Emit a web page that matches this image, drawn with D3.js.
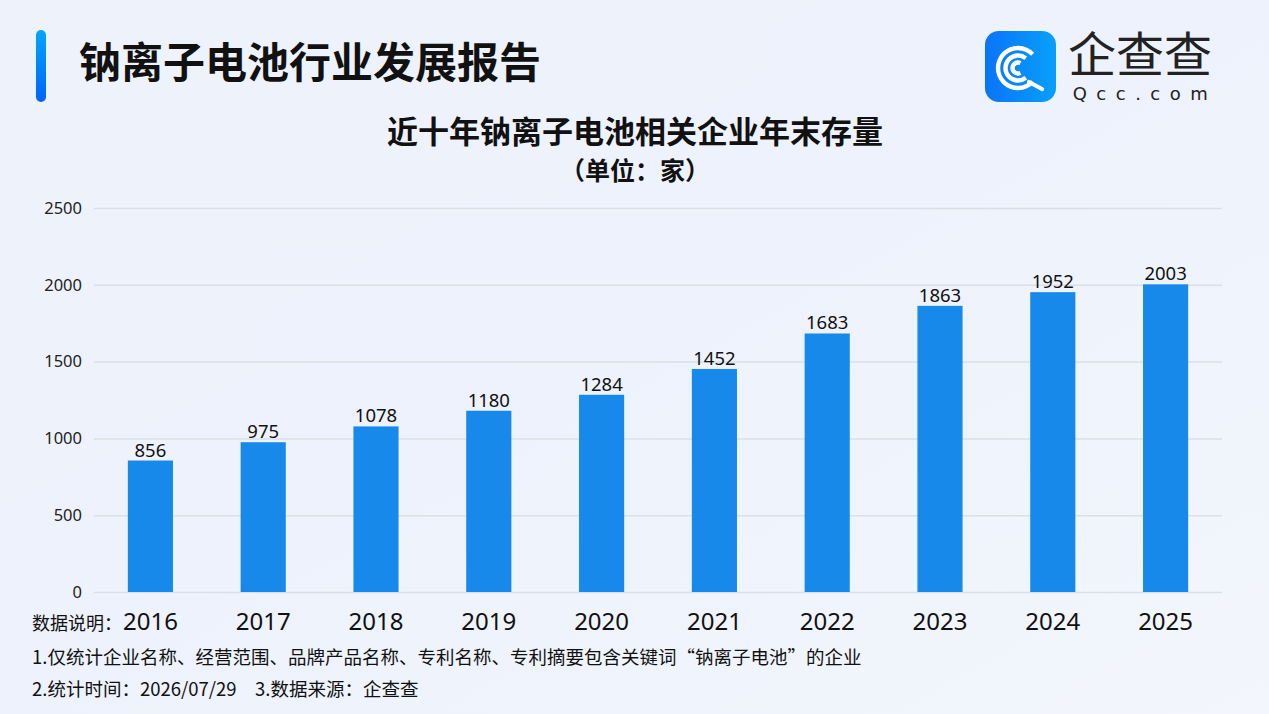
<!DOCTYPE html>
<html>
<head>
<meta charset="utf-8">
<script src="https://cdn.jsdelivr.net/npm/d3@7"></script>
<style>
  html, body { margin: 0; padding: 0; }
  body { width: 1269px; height: 714px; overflow: hidden; }
  svg text { font-family: "Noto Sans CJK SC", "Noto Sans", sans-serif; }
</style>
</head>
<body>
<div id="chart"></div>
<script>
// data
const years = ["2016", "2017", "2018", "2019", "2020", "2021", "2022", "2023", "2024", "2025"];
const counts = [856, 975, 1078, 1180, 1284, 1452, 1683, 1863, 1952, 2003];
const yTicks = [0, 500, 1000, 1500, 2000, 2500];

const width = 1269, height = 714;
const margin = { left: 94, right: 47, top: 208, bottom: 122 };

const svg = d3.select("#chart")
    .append("svg")
    .attr("width", width)
    .attr("height", height);

const defs = svg.append("defs");

const bg = defs.append("linearGradient")
    .attr("id", "bg").attr("x1", "0").attr("y1", "0").attr("x2", "1").attr("y2", "1");
bg.append("stop").attr("offset", "0").attr("stop-color", "#eef2fb");
bg.append("stop").attr("offset", "0.5").attr("stop-color", "#edf2fc");
bg.append("stop").attr("offset", "1").attr("stop-color", "#f3f6fc");

const barGrad = defs.append("linearGradient")
    .attr("id", "accent").attr("x1", "0").attr("y1", "0").attr("x2", "0").attr("y2", "1");
barGrad.append("stop").attr("offset", "0").attr("stop-color", "#03a6fb");
barGrad.append("stop").attr("offset", "1").attr("stop-color", "#0064fa");

const logoGrad = defs.append("linearGradient")
    .attr("id", "logo").attr("x1", "0").attr("y1", "0").attr("x2", "1").attr("y2", "0");
logoGrad.append("stop").attr("offset", "0").attr("stop-color", "#0a74f8");
logoGrad.append("stop").attr("offset", "1").attr("stop-color", "#08a0fb");

svg.append("rect")
    .attr("width", width).attr("height", height)
    .attr("fill", "url(#bg)");

// header
svg.append("rect")
    .attr("x", 36).attr("y", 30).attr("width", 10).attr("height", 72)
    .attr("rx", 5)
    .attr("fill", "url(#accent)");

svg.append("text")
    .attr("x", 79).attr("y", 78)
    .attr("font-size", 42).attr("font-weight", 700)
    .attr("fill", "#111")
    .text("钠离子电池行业发展报告");

// logo
const logo = svg.append("g").attr("transform", "translate(985,31)");
logo.append("rect")
    .attr("width", 71).attr("height", 71).attr("rx", 14)
    .attr("fill", "url(#logo)");
const ring = d3.arc();
[[20, 0.75], [12.5, 0.9], [5.5, 1.1]].forEach(function (r) {
    logo.append("path")
        .attr("d", ring({ innerRadius: r[0] - 2.2, outerRadius: r[0] + 2.2, startAngle: Math.PI / 2 + r[1], endAngle: Math.PI * 2.5 - r[1] }))
        .attr("transform", "translate(33,37)")
        .attr("fill", "#fff");
});
logo.append("line")
    .attr("x1", 44).attr("y1", 51).attr("x2", 57).attr("y2", 58)
    .attr("stroke", "#fff").attr("stroke-width", 4.2).attr("stroke-linecap", "round");

svg.append("text")
    .attr("x", 1140).attr("y", 72)
    .attr("text-anchor", "middle")
    .attr("font-size", 48).attr("font-weight", 400)
    .attr("fill", "#222")
    .text("企查查");
svg.append("text")
    .attr("x", 1145).attr("y", 100)
    .attr("text-anchor", "middle")
    .attr("font-size", 18)
    .attr("letter-spacing", "9.5px")
    .attr("fill", "#222")
    .style("font-family", "'DejaVu Sans', sans-serif")
    .text("Qcc.com");

// chart titles
svg.append("text")
    .attr("x", 635).attr("y", 143)
    .attr("text-anchor", "middle")
    .attr("font-size", 31).attr("font-weight", 700)
    .attr("fill", "#111")
    .text("近十年钠离子电池相关企业年末存量");
svg.append("text")
    .attr("x", 635).attr("y", 180)
    .attr("text-anchor", "middle")
    .attr("font-size", 25).attr("font-weight", 700)
    .attr("fill", "#111")
    .text("（单位：家）");

// scales
const x = d3.scaleBand()
    .domain(years)
    .range([margin.left, width - margin.right])
    .paddingInner(0.6)
    .paddingOuter(0.3);

const y = d3.scaleLinear()
    .domain([0, 2500])
    .range([height - margin.bottom, margin.top]);

// grid + y axis
const yAxis = svg.append("g")
    .attr("transform", "translate(" + margin.left + ",0)")
    .call(d3.axisLeft(y).tickValues(yTicks).tickFormat(d3.format("d"))
        .tickSize(-(width - margin.left - margin.right)).tickPadding(12));
yAxis.select(".domain").remove();
yAxis.selectAll(".tick line").attr("stroke", "#dcdfe6").attr("stroke-width", 1.5);
yAxis.selectAll(".tick text")
    .attr("font-size", 16.5).attr("fill", "#222")
    .style("font-family", "'Noto Sans', sans-serif");

// bars
svg.append("g").selectAll("rect")
    .data(counts)
    .enter()
    .append("rect")
    .attr("x", function (d, i) { return x(years[i]); })
    .attr("y", function (d) { return y(d); })
    .attr("width", x.bandwidth())
    .attr("height", function (d) { return y(0) - y(d); })
    .attr("fill", "#1689ea");

svg.append("g").selectAll("text")
    .data(counts)
    .enter()
    .append("text")
    .attr("x", function (d, i) { return x(years[i]) + x.bandwidth() / 2; })
    .attr("y", function (d) { return y(d) - 4; })
    .attr("text-anchor", "middle")
    .attr("font-size", 18.5)
    .attr("fill", "#111")
    .style("font-family", "'Noto Sans', sans-serif")
    .text(function (d) { return d; });

// x labels
const xAxis = svg.append("g")
    .attr("transform", "translate(0," + y(0) + ")")
    .call(d3.axisBottom(x).tickSize(0).tickPadding(21));
xAxis.select(".domain").remove();
xAxis.selectAll(".tick text")
    .attr("font-size", 24).attr("fill", "#111")
    .style("font-family", "'Noto Sans', sans-serif");

// notes
const notes = svg.append("g").attr("fill", "#111").attr("font-size", 18.5);
notes.append("text").attr("x", 32).attr("y", 630).attr("font-size", 18).text("数据说明：");
notes.append("text").attr("x", 32).attr("y", 664)
    .text("1.仅统计企业名称、经营范围、品牌产品名称、专利名称、专利摘要包含关键词“钠离子电池”的企业");
notes.append("text").attr("x", 32).attr("y", 696)
    .text("2.统计时间：2026/07/29　3.数据来源：企查查");
</script>
</body>
</html>
